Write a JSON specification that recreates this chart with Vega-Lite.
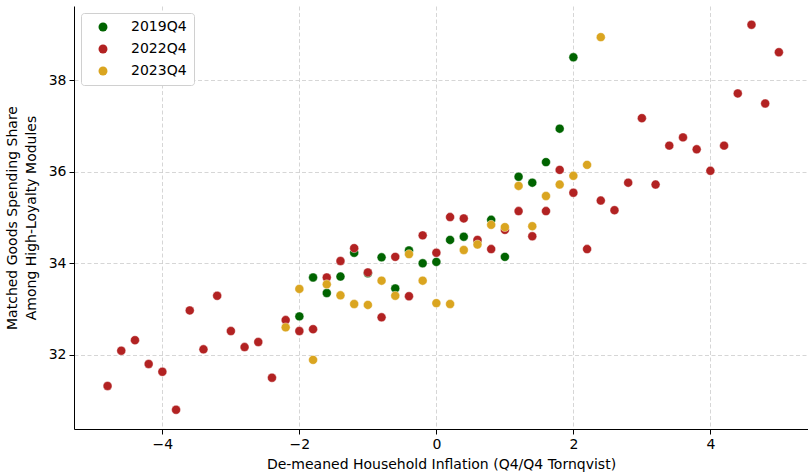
{
  "$schema": "https://vega.github.io/schema/vega-lite/v6.json",
  "autosize": {"type": "none"},
  "padding": {"left": 74, "top": 6, "right": 0, "bottom": 46},
  "width": 734,
  "height": 423,
  "background": "white",
  "config": {
    "font": "DejaVu Sans",
    "view": {"stroke": null},
    "axis": {
      "labelFont": "DejaVu Sans",
      "titleFont": "DejaVu Sans",
      "labelFontSize": 14,
      "titleFontSize": 14,
      "titleFontWeight": "normal",
      "labelColor": "black",
      "titleColor": "black",
      "domainColor": "black",
      "domainWidth": 1,
      "tickColor": "black",
      "tickSize": 5,
      "tickWidth": 1,
      "gridColor": "#cccccc",
      "gridWidth": 0.8,
      "gridDash": [4, 2.5]
    },
    "legend": {
      "labelFont": "DejaVu Sans",
      "labelFontSize": 14,
      "labelColor": "black"
    }
  },
  "datasets": {
    "pts": [
      {"q": "2019Q4", "x": -2.0, "y": 32.84},
      {"q": "2019Q4", "x": -1.8, "y": 33.69},
      {"q": "2019Q4", "x": -1.6, "y": 33.35},
      {"q": "2019Q4", "x": -1.4, "y": 33.71},
      {"q": "2019Q4", "x": -1.2, "y": 34.23},
      {"q": "2019Q4", "x": -1.0, "y": 33.78},
      {"q": "2019Q4", "x": -0.8, "y": 34.13},
      {"q": "2019Q4", "x": -0.6, "y": 33.45},
      {"q": "2019Q4", "x": -0.4, "y": 34.28},
      {"q": "2019Q4", "x": -0.2, "y": 34.0},
      {"q": "2019Q4", "x": 0.0, "y": 34.03},
      {"q": "2019Q4", "x": 0.2, "y": 34.51},
      {"q": "2019Q4", "x": 0.4, "y": 34.58},
      {"q": "2019Q4", "x": 0.6, "y": 34.49},
      {"q": "2019Q4", "x": 0.8, "y": 34.95},
      {"q": "2019Q4", "x": 1.0, "y": 34.14},
      {"q": "2019Q4", "x": 1.2, "y": 35.89},
      {"q": "2019Q4", "x": 1.4, "y": 35.76},
      {"q": "2019Q4", "x": 1.6, "y": 36.21},
      {"q": "2019Q4", "x": 1.8, "y": 36.94},
      {"q": "2019Q4", "x": 2.0, "y": 38.5},
      {"q": "2022Q4", "x": -4.8, "y": 31.32},
      {"q": "2022Q4", "x": -4.6, "y": 32.09},
      {"q": "2022Q4", "x": -4.4, "y": 32.32},
      {"q": "2022Q4", "x": -4.2, "y": 31.8},
      {"q": "2022Q4", "x": -4.0, "y": 31.63},
      {"q": "2022Q4", "x": -3.8, "y": 30.8},
      {"q": "2022Q4", "x": -3.6, "y": 32.97},
      {"q": "2022Q4", "x": -3.4, "y": 32.12},
      {"q": "2022Q4", "x": -3.2, "y": 33.29},
      {"q": "2022Q4", "x": -3.0, "y": 32.52},
      {"q": "2022Q4", "x": -2.8, "y": 32.17},
      {"q": "2022Q4", "x": -2.6, "y": 32.28},
      {"q": "2022Q4", "x": -2.4, "y": 31.5},
      {"q": "2022Q4", "x": -2.2, "y": 32.76},
      {"q": "2022Q4", "x": -2.0, "y": 32.52},
      {"q": "2022Q4", "x": -1.8, "y": 32.56},
      {"q": "2022Q4", "x": -1.6, "y": 33.69},
      {"q": "2022Q4", "x": -1.4, "y": 34.05},
      {"q": "2022Q4", "x": -1.2, "y": 34.33},
      {"q": "2022Q4", "x": -1.0, "y": 33.8},
      {"q": "2022Q4", "x": -0.8, "y": 32.82},
      {"q": "2022Q4", "x": -0.6, "y": 34.14},
      {"q": "2022Q4", "x": -0.4, "y": 33.28},
      {"q": "2022Q4", "x": -0.2, "y": 34.61},
      {"q": "2022Q4", "x": 0.0, "y": 34.23},
      {"q": "2022Q4", "x": 0.2, "y": 35.01},
      {"q": "2022Q4", "x": 0.4, "y": 34.98},
      {"q": "2022Q4", "x": 0.6, "y": 34.51},
      {"q": "2022Q4", "x": 0.8, "y": 34.31},
      {"q": "2022Q4", "x": 1.0, "y": 34.73},
      {"q": "2022Q4", "x": 1.2, "y": 35.14},
      {"q": "2022Q4", "x": 1.4, "y": 34.59},
      {"q": "2022Q4", "x": 1.6, "y": 35.14},
      {"q": "2022Q4", "x": 1.8, "y": 36.04},
      {"q": "2022Q4", "x": 2.0, "y": 35.54},
      {"q": "2022Q4", "x": 2.2, "y": 34.31},
      {"q": "2022Q4", "x": 2.4, "y": 35.37},
      {"q": "2022Q4", "x": 2.6, "y": 35.16},
      {"q": "2022Q4", "x": 2.8, "y": 35.76},
      {"q": "2022Q4", "x": 3.0, "y": 37.17},
      {"q": "2022Q4", "x": 3.2, "y": 35.72},
      {"q": "2022Q4", "x": 3.4, "y": 36.57},
      {"q": "2022Q4", "x": 3.6, "y": 36.75},
      {"q": "2022Q4", "x": 3.8, "y": 36.49},
      {"q": "2022Q4", "x": 4.0, "y": 36.02},
      {"q": "2022Q4", "x": 4.2, "y": 36.57},
      {"q": "2022Q4", "x": 4.4, "y": 37.71},
      {"q": "2022Q4", "x": 4.6, "y": 39.21},
      {"q": "2022Q4", "x": 4.8, "y": 37.49},
      {"q": "2022Q4", "x": 5.0, "y": 38.61},
      {"q": "2023Q4", "x": -2.2, "y": 32.6},
      {"q": "2023Q4", "x": -2.0, "y": 33.44},
      {"q": "2023Q4", "x": -1.8, "y": 31.89},
      {"q": "2023Q4", "x": -1.6, "y": 33.54},
      {"q": "2023Q4", "x": -1.4, "y": 33.3},
      {"q": "2023Q4", "x": -1.2, "y": 33.11},
      {"q": "2023Q4", "x": -1.0, "y": 33.09},
      {"q": "2023Q4", "x": -0.8, "y": 33.62},
      {"q": "2023Q4", "x": -0.6, "y": 33.29},
      {"q": "2023Q4", "x": -0.4, "y": 34.2},
      {"q": "2023Q4", "x": -0.2, "y": 33.62},
      {"q": "2023Q4", "x": 0.0, "y": 33.13},
      {"q": "2023Q4", "x": 0.2, "y": 33.11},
      {"q": "2023Q4", "x": 0.4, "y": 34.29},
      {"q": "2023Q4", "x": 0.6, "y": 34.41},
      {"q": "2023Q4", "x": 0.8, "y": 34.84},
      {"q": "2023Q4", "x": 1.0, "y": 34.79},
      {"q": "2023Q4", "x": 1.2, "y": 35.69},
      {"q": "2023Q4", "x": 1.4, "y": 34.81},
      {"q": "2023Q4", "x": 1.6, "y": 35.47},
      {"q": "2023Q4", "x": 1.8, "y": 35.72},
      {"q": "2023Q4", "x": 2.0, "y": 35.91},
      {"q": "2023Q4", "x": 2.2, "y": 36.15},
      {"q": "2023Q4", "x": 2.4, "y": 38.94}
    ]
  },
  "layer": [
    {
      "data": {"name": "pts"},
      "mark": {"type": "point", "filled": true, "size": 80, "opacity": 1, "stroke": "white", "strokeWidth": 0.5, "strokeOpacity": 0.8},
      "encoding": {
        "x": {
          "field": "x", "type": "quantitative",
          "scale": {"domain": [-5.29, 5.425], "nice": false, "zero": false},
          "axis": {"values": [-4, -2, 0, 2, 4], "title": "De-meaned Household Inflation (Q4/Q4 Tornqvist)", "labelPadding": 3, "titlePadding": 6, "grid": true}
        },
        "y": {
          "field": "y", "type": "quantitative",
          "scale": {"domain": [30.38, 39.62], "nice": false, "zero": false},
          "axis": {"values": [32, 34, 36, 38], "title": ["Matched Goods Spending Share", "Among High-Loyalty Modules"], "titleLineHeight": 19, "labelPadding": 3, "titlePadding": 10, "grid": true}
        },
        "color": {
          "field": "q", "type": "nominal",
          "scale": {"domain": ["2019Q4", "2022Q4", "2023Q4"], "range": ["#006400", "#b22222", "#daa520"]},
          "legend": {
            "title": null,
            "orient": "top-left",
            "offset": 7,
            "fillColor": "white",
            "strokeColor": "#d0d0d0",
            "cornerRadius": 3,
            "padding": 7,
            "symbolOffset": 8,
            "symbolType": "circle",
            "symbolSize": 80,
            "symbolStrokeWidth": 0,
            "labelOffset": 21,
            "rowPadding": 8
          }
        },
        "order": {"field": "q", "type": "nominal"}
      }
    },
    {
      "mark": {"type": "rule", "color": "black", "strokeWidth": 1},
      "encoding": {"y": {"datum": 39.62}}
    }
  ]
}
